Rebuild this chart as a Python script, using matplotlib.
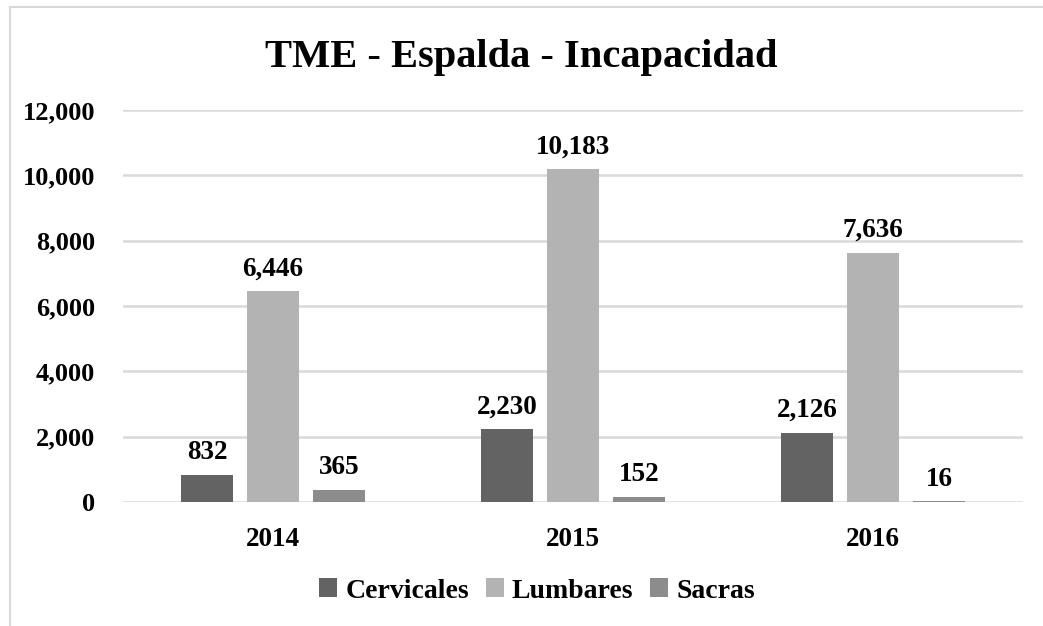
import matplotlib
matplotlib.use("Agg")
import matplotlib.pyplot as plt
from matplotlib.lines import Line2D
import numpy as np

years = ["2014", "2015", "2016"]
series_names = ["Cervicales", "Lumbares", "Sacras"]
cervicales = [832, 2230, 2126]
lumbares = [6446, 10183, 7636]
sacras = [365, 152, 16]
yticks = [0, 2000, 4000, 6000, 8000, 10000, 12000]

colors = ["#636363", "#b3b3b3", "#8c8c8c"]

plt.rcParams['font.family'] = ['Liberation Serif', 'DejaVu Serif']
plt.rcParams['font.weight'] = 'bold'

fig = plt.figure(figsize=(10.43, 6.26), dpi=100)
ax = fig.add_axes([123/1043, 1 - 502/626, 900/1043, 392/626])

x = np.arange(len(years))
width = 0.173
offset = 0.22
data = [cervicales, lumbares, sacras]
for i, (vals, name, c) in enumerate(zip(data, series_names, colors)):
    pos = x + (i - 1) * offset
    bars = ax.bar(pos, vals, width=width, color=c, label=name, zorder=3)
    for b, v in zip(bars, vals):
        ax.annotate(f"{v:,}", (b.get_x() + b.get_width() / 2, v),
                    xytext=(0, 7), textcoords="offset points",
                    ha="center", va="bottom", fontsize=19.5, fontweight="bold")

ax.set_xlim(-0.5, 2.5)
ax.set_ylim(0, 12000)
ax.set_yticks(yticks)
ax.set_yticklabels([f"{t:,}" for t in yticks], fontsize=19, fontweight="bold")
ax.set_xticks(x)
ax.set_xticklabels(years, fontsize=19.5, fontweight="bold")
ax.tick_params(axis="both", length=0)
ax.tick_params(axis="y", pad=20)
ax.tick_params(axis="x", pad=18)
ax.grid(axis="y", color="#d9d9d9", linewidth=1.8, zorder=0)
for s in ax.spines.values():
    s.set_visible(False)

fig.text(0.5, 1 - 58/626, "TME - Espalda - Incapacidad", ha="center", va="center",
         fontsize=29.2, fontweight="bold")

leg = fig.legend(loc="center", bbox_to_anchor=(537/1043, 1 - 591/626), ncol=3,
                 frameon=False, handlelength=0.65, handleheight=0.65,
                 handletextpad=0.3, columnspacing=0.6,
                 prop={'weight': 'bold', 'size': 20})

# outer frame (top and left visible)
fig.add_artist(Line2D([10/1043, 10/1043], [0, 1 - 7/626], transform=fig.transFigure,
                      color="#d9d9d9", linewidth=1.5))
fig.add_artist(Line2D([10/1043, 1], [1 - 7/626, 1 - 7/626], transform=fig.transFigure,
                      color="#d9d9d9", linewidth=1.5))

fig.savefig("out.png", dpi=100)
